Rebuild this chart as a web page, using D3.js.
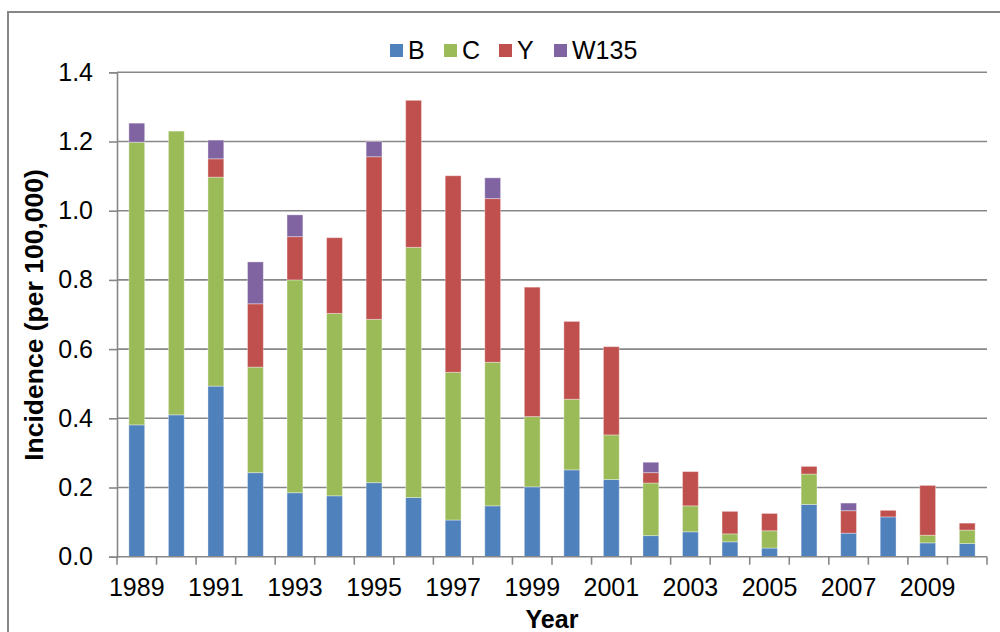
<!DOCTYPE html>
<html>
<head>
<meta charset="utf-8">
<script src="https://cdn.jsdelivr.net/npm/d3@7"></script>
<style>
  html, body { margin: 0; padding: 0; background: #fff; }
  svg { display: block; font-family: "Liberation Sans", Arial, sans-serif; }
</style>
</head>
<body>
<svg id="chart" width="1000" height="632"></svg>
<script>
// Meningococcal disease incidence by serogroup, per 100,000
const years = [1989, 1990, 1991, 1992, 1993, 1994, 1995, 1996, 1997, 1998, 1999,
               2000, 2001, 2002, 2003, 2004, 2005, 2006, 2007, 2008, 2009, 2010];
const serogroups = ["B", "C", "Y", "W135"];
const valuesB    = [0.381, 0.410, 0.493, 0.243, 0.185, 0.176, 0.214, 0.171, 0.106, 0.147, 0.202,
                    0.251, 0.223, 0.061, 0.072, 0.043, 0.025, 0.151, 0.068, 0.115, 0.040, 0.038];
const valuesC    = [0.817, 0.820, 0.604, 0.305, 0.615, 0.527, 0.472, 0.723, 0.427, 0.415, 0.203,
                    0.204, 0.129, 0.152, 0.075, 0.023, 0.050, 0.088, 0.000, 0.000, 0.022, 0.039];
const valuesY    = [0.000, 0.000, 0.053, 0.183, 0.125, 0.219, 0.470, 0.425, 0.568, 0.473, 0.374,
                    0.225, 0.255, 0.030, 0.099, 0.065, 0.050, 0.022, 0.065, 0.019, 0.144, 0.020];
const valuesW135 = [0.055, 0.000, 0.054, 0.121, 0.063, 0.000, 0.044, 0.000, 0.000, 0.060, 0.000,
                    0.000, 0.000, 0.030, 0.000, 0.000, 0.000, 0.000, 0.022, 0.000, 0.000, 0.000];
const yTicks = [0, 0.2, 0.4, 0.6, 0.8, 1.0, 1.2, 1.4];
const xLabelYears = years.filter((d, i) => i % 2 === 0);
const colors = ["#4F81BD", "#9BBB59", "#C0504D", "#8064A2"];

const rows = years.map((yr, i) => ({
  year: yr, B: valuesB[i], C: valuesC[i], Y: valuesY[i], W135: valuesW135[i]
}));

const svg = d3.select("#chart");
const grid = "#878787";

// outer chart frame
svg.append("rect")
  .attr("x", 8).attr("y", 12)
  .attr("width", 1010).attr("height", 640)
  .attr("fill", "none").attr("stroke", grid).attr("stroke-width", 2);

const plotLeft = 117, plotRight = 987, plotTop = 72.3, plotBottom = 556.7;

const x = d3.scaleBand().domain(years).range([plotLeft, plotRight])
  .paddingInner(0.6).paddingOuter(0.3);
const y = d3.scaleLinear().domain([0, 1.4]).range([plotBottom, plotTop]);
const color = d3.scaleOrdinal().domain(serogroups).range(colors);

// horizontal gridlines
svg.append("g").selectAll("line").data(yTicks.filter(d => d > 0)).join("line")
  .attr("x1", plotLeft).attr("x2", plotRight)
  .attr("y1", d => y(d)).attr("y2", d => y(d))
  .attr("stroke", grid).attr("stroke-width", 1.6);

// stacked bars
const stacked = d3.stack().keys(serogroups)(rows);
svg.append("g").selectAll("g").data(stacked).join("g")
  .attr("fill", d => color(d.key))
  .selectAll("rect").data(d => d.filter(s => s[1] - s[0] > 0)).join("rect")
  .attr("x", d => x(d.data.year))
  .attr("width", x.bandwidth())
  .attr("y", d => y(d[1]))
  .attr("height", d => y(d[0]) - y(d[1]))
  .attr("stroke", "rgba(255,255,255,0.35)")
  .attr("stroke-width", 1);

// y axis
const yAxis = svg.append("g")
  .attr("transform", `translate(${plotLeft},0)`)
  .call(d3.axisLeft(y).tickValues(yTicks).tickFormat(d3.format(".1f"))
    .tickSize(8).tickPadding(16));
yAxis.select(".domain").attr("stroke", grid).attr("stroke-width", 1.6);
yAxis.selectAll(".tick line").attr("stroke", grid).attr("stroke-width", 1.6);
yAxis.selectAll(".tick text")
  .attr("fill", "#000").attr("font-size", 25)
  .attr("font-family", "Liberation Sans, Arial, sans-serif");

// x axis: tick marks on category boundaries, labels on alternate years
const half = (x.step() - x.bandwidth()) / 2;
const edges = years.map(d => x(d) - half).concat([x(years[years.length - 1]) + x.bandwidth() + half]);
const xg = svg.append("g");
xg.append("line")
  .attr("x1", plotLeft).attr("x2", plotRight).attr("y1", plotBottom).attr("y2", plotBottom)
  .attr("stroke", grid).attr("stroke-width", 1.6);
xg.selectAll("line.edge").data(edges).join("line")
  .attr("class", "edge")
  .attr("x1", d => d).attr("x2", d => d)
  .attr("y1", plotBottom).attr("y2", plotBottom + 8)
  .attr("stroke", grid).attr("stroke-width", 1.6);

const xAxis = svg.append("g")
  .attr("transform", `translate(0,${plotBottom})`)
  .call(d3.axisBottom(x).tickValues(xLabelYears).tickSize(0).tickPadding(22));
xAxis.select(".domain").remove();
xAxis.selectAll(".tick text")
  .attr("fill", "#000").attr("font-size", 25)
  .attr("font-family", "Liberation Sans, Arial, sans-serif");

// axis titles
svg.append("text")
  .attr("x", (plotLeft + plotRight) / 2).attr("y", 628)
  .attr("text-anchor", "middle")
  .attr("font-size", 25).attr("font-weight", "bold")
  .text("Year");

svg.append("text")
  .attr("transform", `translate(43,315) rotate(-90)`)
  .attr("text-anchor", "middle")
  .attr("font-size", 26.5).attr("font-weight", "bold")
  .text("Incidence (per 100,000)");

// legend
const legendX = [390, 444, 499, 554];
const legend = svg.append("g").selectAll("g").data(serogroups).join("g")
  .attr("transform", (d, i) => `translate(${legendX[i]},44)`);
legend.append("rect")
  .attr("width", 13).attr("height", 13)
  .attr("fill", d => color(d));
legend.append("text")
  .attr("x", 18).attr("y", 15)
  .attr("font-size", 25).attr("fill", "#000")
  .text(d => d);
</script>
</body>
</html>
